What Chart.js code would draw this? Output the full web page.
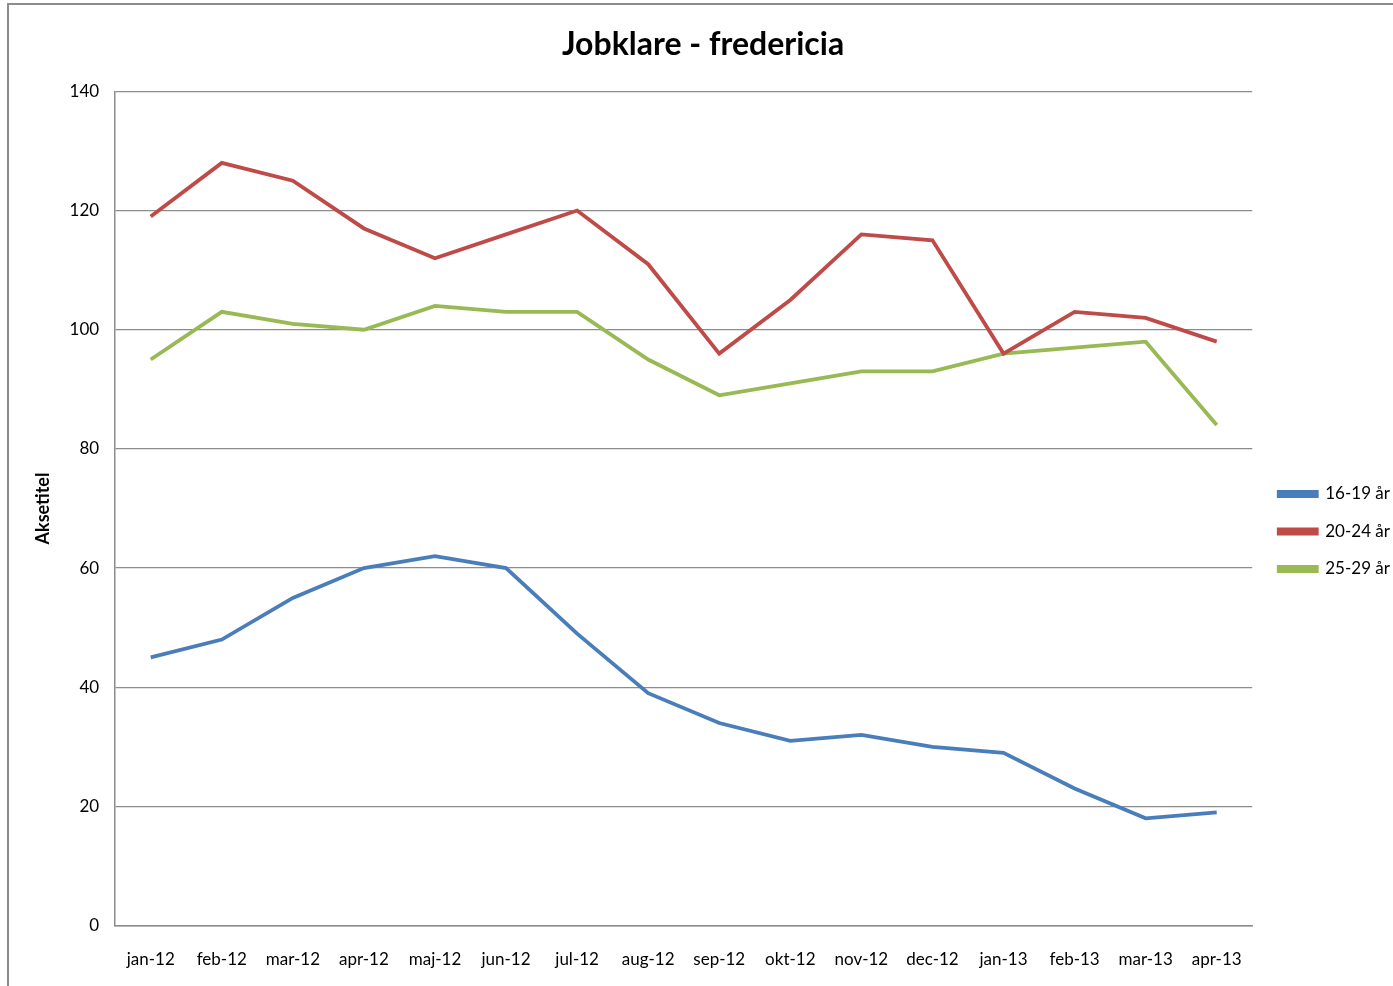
<!DOCTYPE html>
<html>
<head>
<meta charset="utf-8">
<script src="https://cdn.jsdelivr.net/npm/chart.js@4/dist/chart.umd.min.js"></script>
<style>
  html, body { margin: 0; padding: 0; background: #fff; }
  #wrap { position: relative; width: 1393px; height: 986px; }
  #frame { position: absolute; left: 7px; top: 3px; width: 1400px; height: 1000px;
           border-left: 2px solid #8c8c8c; border-top: 2px solid #8c8c8c; }
  canvas { position: absolute; left: 0; top: 0; }
</style>
</head>
<body>
<div id="wrap">
  <div id="frame"></div>
  <canvas id="chart" width="1393" height="986"></canvas>
</div>
<script>
const months = ['jan-12', 'feb-12', 'mar-12', 'apr-12', 'maj-12', 'jun-12', 'jul-12', 'aug-12',
  'sep-12', 'okt-12', 'nov-12', 'dec-12', 'jan-13', 'feb-13', 'mar-13', 'apr-13'];

const age16to19 = [45, 48, 55, 60, 62, 60, 49, 39, 34, 31, 32, 30, 29, 23, 18, 19];
const age20to24 = [119, 128, 125, 117, 112, 116, 120, 111, 96, 105, 116, 115, 96, 103, 102, 98];
const age25to29 = [95, 103, 101, 100, 104, 103, 103, 95, 89, 91, 93, 93, 96, 97, 98, 84];

const seriesNames = ['16-19 år', '20-24 år', '25-29 år'];
const seriesColors = ['#4a7ebb', '#be4b48', '#98b954'];

const font = 'Lato, "Open Sans", sans-serif';

function makeSet(i, data) {
  return {
    label: seriesNames[i],
    data,
    borderColor: seriesColors[i],
    backgroundColor: seriesColors[i],
    borderWidth: 3.8,
    pointRadius: 0,
    tension: 0,
    fill: false
  };
}

// nudge the legend a bit right and down, like the excel one
const legendNudge = {
  id: 'legendNudge',
  afterLayout(chart) {
    const lg = chart.legend;
    lg.left += 6; lg.right += 6;
    lg.top += 22; lg.bottom += 22;
  }
};

new Chart(document.getElementById('chart').getContext('2d'), {
  type: 'line',
  data: {
    labels: months,
    datasets: [makeSet(0, age16to19), makeSet(1, age20to24), makeSet(2, age25to29)]
  },
  plugins: [legendNudge],
  options: {
    responsive: false,
    animation: false,
    layout: { padding: { left: 12, right: -1, top: 25, bottom: -8 } },
    plugins: {
      title: {
        display: true,
        text: 'Jobklare - fredericia',
        color: '#000',
        font: { family: font, size: 32, weight: 'bold' },
        padding: { top: 0, bottom: 28 }
      },
      legend: {
        position: 'right',
        labels: {
          color: '#000',
          font: { family: font, size: 17 },
          boxWidth: 38,
          boxHeight: 4,
          padding: 20.5
        }
      },
      tooltip: { enabled: false }
    },
    scales: {
      x: {
        offset: true,
        grid: { display: false, drawTicks: false },
        border: { color: '#8c8c8c', width: 1.5 },
        ticks: { color: '#000', font: { family: font, size: 17 }, padding: 24, maxRotation: 0, autoSkip: false }
      },
      y: {
        min: 0,
        max: 140,
        ticks: { stepSize: 20, color: '#000', font: { family: font, size: 17 }, padding: 16 },
        grid: { color: '#8c8c8c', lineWidth: 1.2, drawTicks: false },
        border: { color: '#8c8c8c', width: 1.5 },
        title: {
          display: true,
          text: 'Aksetitel',
          color: '#000',
          font: { family: font, size: 18, weight: 'bold' },
          padding: { top: 20, bottom: 0 }
        }
      }
    }
  }
});
</script>
</body>
</html>
